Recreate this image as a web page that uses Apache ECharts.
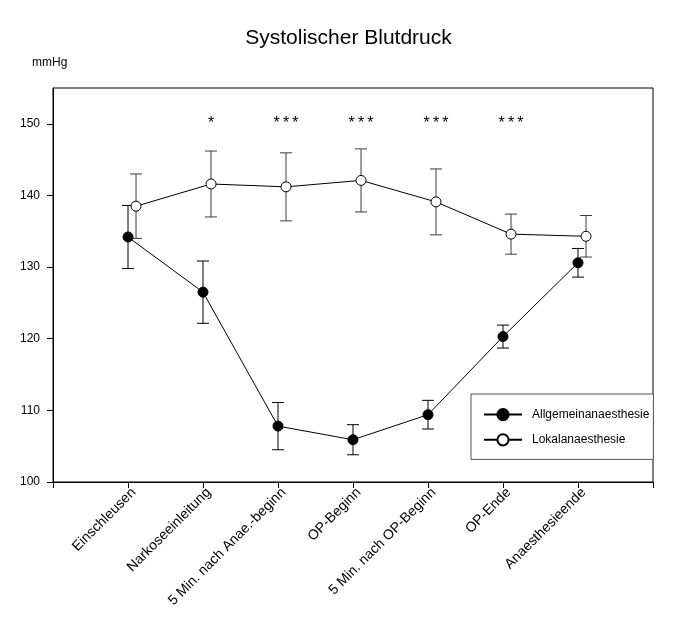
<!DOCTYPE html>
<html>
<head>
<meta charset="utf-8">
<script src="https://cdn.jsdelivr.net/npm/echarts@6/dist/echarts.min.js"></script>
<style>html,body{margin:0;padding:0;background:#fff}#c{width:697px;height:630px}</style>
</head>
<body>
<div id="c"></div>
<script>
// ---- data ----
const categories = ['Einschleusen', 'Narkoseeinleitung', '5 Min. nach Anae.-beginn', 'OP-Beginn', '5 Min. nach OP-Beginn', 'OP-Ende', 'Anaesthesieende'];
const allgemeinMean = [134.2, 126.5, 107.8, 105.9, 109.4, 120.3, 130.6];
const allgemeinErr  = [4.4, 4.35, 3.3, 2.1, 2.0, 1.6, 2.0];
const lokalMean     = [138.5, 141.6, 141.2, 142.1, 139.1, 134.6, 134.3];
const lokalErr      = [4.5, 4.6, 4.75, 4.4, 4.6, 2.8, 2.9];
const significance  = ['', '*', '***', '***', '***', '***', ''];
const yTickValues   = [100, 110, 120, 130, 140, 150];
const seriesNames   = ['Allgemeinanaesthesie', 'Lokalanaesthesie'];

// ---- build ----
const FONT = 'Liberation Sans, Arial, sans-serif';
const lokalShift = 0.107;   // open markers are drawn slightly right of the tick
const starLevel = 150;

const xPos = (i, shift) => i + 1 + shift;
const allgemeinPts = allgemeinMean.map((v, i) => [xPos(i, 0), v]);
const lokalPts = lokalMean.map((v, i) => [xPos(i, lokalShift), v]);
const allgemeinBars = allgemeinMean.map((v, i) => [xPos(i, 0), v - allgemeinErr[i], v + allgemeinErr[i]]);
const lokalBars = lokalMean.map((v, i) => [xPos(i, lokalShift), v - lokalErr[i], v + lokalErr[i]]);
const starPts = significance.map((s, i) => [xPos(i, lokalShift), starLevel]);

function errorBar(color) {
  return function (params, api) {
    const x = api.value(0);
    const lo = api.coord([x, api.value(1)]);
    const hi = api.coord([x, api.value(2)]);
    const w = 6;
    const style = { stroke: color, lineWidth: 1 };
    return {
      type: 'group',
      children: [
        { type: 'line', shape: { x1: lo[0], y1: lo[1], x2: hi[0], y2: hi[1] }, style },
        { type: 'line', shape: { x1: lo[0] - w, y1: lo[1], x2: lo[0] + w, y2: lo[1] }, style },
        { type: 'line', shape: { x1: hi[0] - w, y1: hi[1], x2: hi[0] + w, y2: hi[1] }, style }
      ]
    };
  };
}

const chart = echarts.init(document.getElementById('c'), null, { renderer: 'canvas' });
chart.setOption({
  animation: false,
  backgroundColor: '#fff',
  textStyle: { fontFamily: FONT, color: '#000' },
  title: {
    text: 'Systolischer Blutdruck',
    left: 'center',
    top: 23,
    textStyle: { fontFamily: FONT, fontSize: 21, fontWeight: 'normal', color: '#000' }
  },
  graphic: [{
    type: 'text', left: 32, top: 57,
    style: { text: 'mmHg', font: '12px ' + FONT, fill: '#000' }
  }],
  legend: {
    data: seriesNames,
    orient: 'vertical',
    left: 471,
    top: 394,
    padding: [14, 4, 13, 12],
    itemGap: 12,
    itemWidth: 38,
    itemHeight: 14,
    borderColor: '#555',
    borderWidth: 1,
    backgroundColor: '#fff',
    textStyle: { fontFamily: FONT, fontSize: 12, color: '#000', padding: [0, 0, 0, 5] }
  },
  grid: {
    left: 53, right: 44, top: 88, bottom: 148,
    show: true, borderColor: '#000', borderWidth: 1
  },
  xAxis: {
    type: 'value',
    min: 0, max: 8, interval: 1,
    splitLine: { show: false },
    axisLine: { show: true, lineStyle: { color: '#000', width: 1 } },
    axisTick: { show: true, inside: false, length: 6, lineStyle: { color: '#000' } },
    axisLabel: {
      customValues: [1, 2, 3, 4, 5, 6, 7],
      formatter: v => categories[v - 1] || '',
      rotate: 45,
      margin: 4,
      verticalAlign: 'top',
      padding: [0, -1, 0, 0],
      fontSize: 14,
      fontFamily: FONT,
      color: '#000'
    }
  },
  yAxis: {
    type: 'value',
    min: 100, max: 155, interval: 10,
    splitLine: { show: false },
    axisLine: { show: true, lineStyle: { color: '#000', width: 1 } },
    axisTick: { show: true, inside: false, length: 6, customValues: yTickValues, lineStyle: { color: '#000' } },
    axisLabel: { customValues: yTickValues, margin: 13, fontSize: 12, fontFamily: FONT, color: '#000' }
  },
  series: [
    {
      name: 'errA', type: 'custom', renderItem: errorBar('#000'),
      data: allgemeinBars, encode: { x: 0, y: [1, 2] }, z: 1, silent: true
    },
    {
      name: 'errL', type: 'custom', renderItem: errorBar('#3c3c3c'),
      data: lokalBars, encode: { x: 0, y: [1, 2] }, z: 1, silent: true
    },
    {
      name: seriesNames[0], type: 'line', data: allgemeinPts, z: 3,
      symbol: 'circle', symbolSize: 10,
      lineStyle: { color: '#000', width: 1 },
      itemStyle: { color: '#000', borderColor: '#000', borderWidth: 1 }
    },
    {
      name: seriesNames[1], type: 'line', data: lokalPts, z: 4,
      symbol: 'circle', symbolSize: 10,
      lineStyle: { color: '#000', width: 1 },
      itemStyle: { color: '#fff', borderColor: '#000', borderWidth: 1 }
    },
    {
      name: 'stars', type: 'custom', data: starPts, encode: { x: 0, y: 1 }, z: 5, silent: true,
      renderItem: function (params, api) {
        const p = api.coord([api.value(0), api.value(1)]);
        const txt = significance[params.dataIndex].split('').join('\u2009');
        return {
          type: 'text', x: p[0], y: p[1],
          style: { text: txt, font: '16px ' + FONT, fill: '#000', align: 'center', verticalAlign: 'middle' }
        };
      }
    }
  ]
});
</script>
</body>
</html>
